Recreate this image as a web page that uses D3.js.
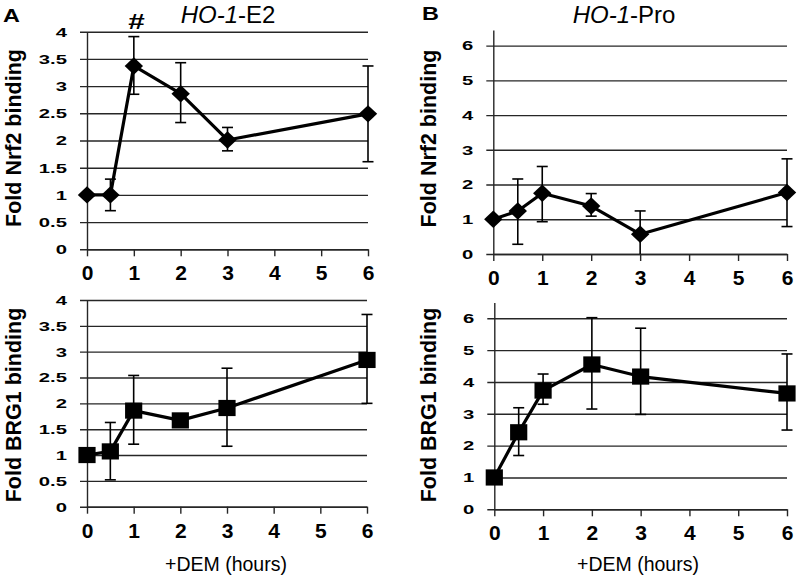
<!DOCTYPE html>
<html>
<head>
<meta charset="utf-8">
<script src="https://cdnjs.cloudflare.com/ajax/libs/d3/7.8.5/d3.min.js"></script>
<style>
  body { margin: 0; background: #fff; }
  svg { display: block; font-family: "Liberation Sans", Arial, sans-serif; }
  .err { stroke: #000; stroke-width: 1.6; }
  .series { fill: none; stroke: #000; stroke-width: 3.2; stroke-linejoin: round; }
</style>
</head>
<body>
<svg width="800" height="581"></svg>
<script>
// hours after DEM treatment
var hours = [0, 0.5, 1, 2, 3, 6],
  xTicks = [0, 1, 2, 3, 4, 5, 6],
  ticksE2 = [0, 0.5, 1, 1.5, 2, 2.5, 3, 3.5, 4],
  ticksPro = [0, 1, 2, 3, 4, 5, 6];

// A: HO-1-E2, Nrf2
var nrf2E2 = [1.0, 1.0, 3.37, 2.86, 2.01, 2.49],
  nrf2E2Hi = [1.0, 1.29, 3.91, 3.43, 2.24, 3.37],
  nrf2E2Lo = [1.0, 0.71, 2.85, 2.33, 1.81, 1.61];

// A: HO-1-E2, BRG1
var brg1E2 = [1.0, 1.07, 1.86, 1.67, 1.91, 2.84],
  brg1E2Hi = [1.0, 1.63, 2.54, 1.75, 2.68, 3.72],
  brg1E2Lo = [1.0, 0.52, 1.21, 1.59, 1.17, 2.0];

// B: HO-1-Pro, Nrf2
var nrf2Pro = [1.0, 1.24, 1.75, 1.38, 0.57, 1.77],
  nrf2ProHi = [1.0, 2.16, 2.52, 1.74, 1.24, 2.74],
  nrf2ProLo = [1.0, 0.28, 0.93, 1.09, 0, 0.79];

// B: HO-1-Pro, BRG1
var brg1Pro = [1.0, 2.42, 3.73, 4.55, 4.17, 3.64],
  brg1ProHi = [1.0, 3.19, 4.25, 6.02, 5.69, 4.88],
  brg1ProLo = [1.0, 1.69, 3.30, 3.15, 2.98, 2.49];

var svg = d3.select("svg"),
  gridColor = "#262626";

var panels = [
  { mean: nrf2E2, hi: nrf2E2Hi, lo: nrf2E2Lo, ticks: ticksE2, yMax: 4, marker: "diamond",
    left: 87, right: 368, bottom: 249.3, top: 31.7, ylabel: "Fold Nrf2 binding", labelX: 21, labelY: 138 },
  { mean: brg1E2, hi: brg1E2Hi, lo: brg1E2Lo, ticks: ticksE2, yMax: 4, marker: "square",
    left: 87, right: 367, bottom: 506.7, top: 300, ylabel: "Fold BRG1 binding", labelX: 21, labelY: 405 },
  { mean: nrf2Pro, hi: nrf2ProHi, lo: nrf2ProLo, ticks: ticksPro, yMax: 6.45, marker: "diamond",
    left: 493.3, right: 787, bottom: 254, top: 30, ylabel: "Fold Nrf2 binding", labelX: 436, labelY: 138.5 },
  { mean: brg1Pro, hi: brg1ProHi, lo: brg1ProLo, ticks: ticksPro, yMax: 6.5, marker: "square",
    left: 494.3, right: 787, bottom: 509.3, top: 302.4, ylabel: "Fold BRG1 binding", labelX: 436, labelY: 405 }
];

panels.forEach(drawPanel);

function drawPanel(p) {
  var x = d3.scaleLinear().domain([0, 6]).range([p.left, p.right]);
  var y = d3.scaleLinear().domain([0, p.yMax]).range([p.bottom, p.top]);
  var g = svg.append("g");

  // y axis + horizontal gridlines
  var yAxis = g.append("g")
    .attr("transform", "translate(" + p.left + ",0)")
    .call(d3.axisLeft(y).tickValues(p.ticks).tickSize(-(p.right - p.left)).tickSizeOuter(0)
      .tickFormat(function(d){ return d; }));
  yAxis.selectAll(".tick line").attr("x1", -7)
    .attr("stroke", gridColor).attr("stroke-width", 1.4);
  yAxis.selectAll(".tick text")
    .attr("x", 0)
    .attr("fill", "#000")
    .attr("transform", "translate(-20,0) scale(1.5,1)")
    .style("font-size", "13.5px")
    .style("font-weight", "bold")
    .style("font-family", "'Liberation Sans', Arial, sans-serif");

  // x axis
  var xAxis = g.append("g")
    .attr("transform", "translate(0," + p.bottom + ")")
    .call(d3.axisBottom(x).tickValues(xTicks).tickSize(7).tickSizeOuter(0).tickPadding(9)
      .tickFormat(function(d){ return d; }));
  xAxis.selectAll(".tick line").attr("stroke", gridColor).attr("stroke-width", 1.4);
  xAxis.selectAll(".tick text")
    .attr("fill", "#000")
    .style("font-size", "21px")
    .style("font-weight", "bold")
    .style("font-family", "'Liberation Sans', Arial, sans-serif");
  g.selectAll(".domain").attr("stroke", gridColor).attr("stroke-width", 1.4);

  var pts = hours.map(function(h, i){
    return { h: h, m: p.mean[i], hi: p.hi[i], lo: p.lo[i] };
  });

  // error bars
  var eb = g.selectAll(".eb")
    .data(pts.filter(function(d){ return d.hi !== d.lo; }))
    .enter().append("g");
  eb.append("line").attr("class", "err")
    .attr("x1", function(d){ return x(d.h); }).attr("x2", function(d){ return x(d.h); })
    .attr("y1", function(d){ return y(d.lo); }).attr("y2", function(d){ return y(d.hi); });
  eb.append("line").attr("class", "err")
    .attr("x1", function(d){ return x(d.h) - 5.5; }).attr("x2", function(d){ return x(d.h) + 5.5; })
    .attr("y1", function(d){ return y(d.hi); }).attr("y2", function(d){ return y(d.hi); });
  eb.filter(function(d){ return d.lo > 0; })
    .append("line").attr("class", "err")
    .attr("x1", function(d){ return x(d.h) - 5.5; }).attr("x2", function(d){ return x(d.h) + 5.5; })
    .attr("y1", function(d){ return y(d.lo); }).attr("y2", function(d){ return y(d.lo); });

  var line = d3.line()
    .x(function(d){ return x(d.h); })
    .y(function(d){ return y(d.m); });
  g.append("path").datum(pts).attr("class", "series").attr("d", line);

  var shape = p.marker === "diamond"
    ? "M0,-8.7L9.2,0L0,8.7L-9.2,0Z"
    : "M-8.6,-8.1H8.6V8.1H-8.6Z";
  g.selectAll(".mk")
    .data(pts).enter()
    .append("path")
    .attr("d", shape)
    .attr("fill", "#000")
    .attr("transform", function(d){ return "translate(" + x(d.h) + "," + y(d.m) + ")"; });

  g.append("text")
    .attr("transform", "translate(" + p.labelX + "," + p.labelY + ") rotate(-90)")
    .attr("text-anchor", "middle")
    .style("font-size", "21.5px")
    .style("font-weight", "bold")
    .text(p.ylabel);
}

// x axis titles
[226, 638].forEach(function(cx){
  svg.append("text")
    .attr("x", cx)
    .attr("y", 571)
    .attr("text-anchor", "middle")
    .style("font-size", "19.5px")
    .text("+DEM (hours)");
});

// panel letters
svg.append("text").attr("transform", "translate(3,21.7) scale(1.3,1)")
  .style("font-size", "18px").style("font-weight", "bold").text("A");
svg.append("text").attr("transform", "translate(422,20) scale(1.3,1)")
  .style("font-size", "18px").style("font-weight", "bold").text("B");

// titles
var tA = svg.append("text").attr("x", 228).attr("y", 22.7).attr("text-anchor", "middle")
  .style("font-size", "24px");
tA.append("tspan").style("font-style", "italic").text("HO-1");
tA.append("tspan").text("-E2");
var tB = svg.append("text").attr("x", 624).attr("y", 23).attr("text-anchor", "middle")
  .style("font-size", "24px");
tB.append("tspan").style("font-style", "italic").text("HO-1");
tB.append("tspan").text("-Pro");

svg.append("text").attr("transform", "translate(136.5,29) scale(1.35,1)")
  .attr("text-anchor", "middle")
  .style("font-size", "22px").style("font-weight", "bold").text("#");
</script>
</body>
</html>
